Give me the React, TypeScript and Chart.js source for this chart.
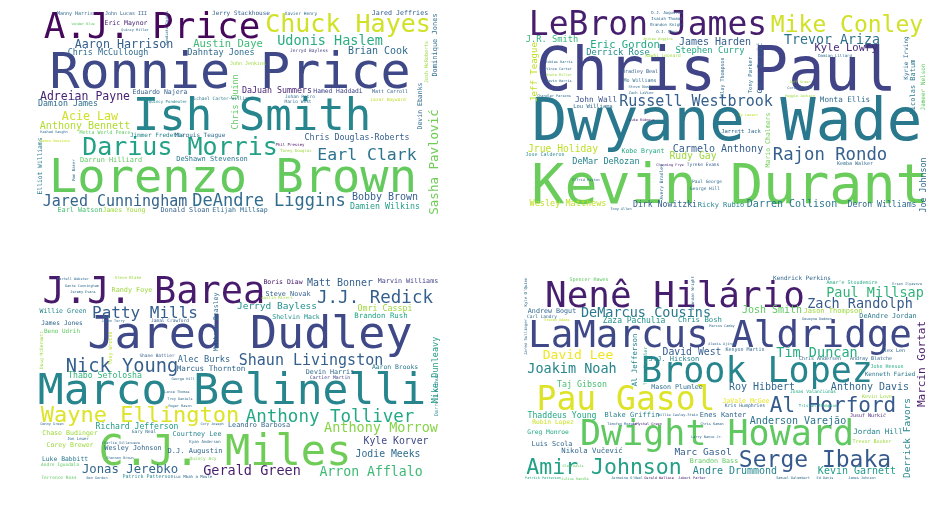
import { useEffect, useRef } from "react";
import { Chart, registerables } from "chart.js";

Chart.register(...registerables);

// word, weight (rendered as font px)
type Word = [string, number];
// x, y (baseline centre, page px), turn (1 = reads bottom to top)
type Spot = [number, number, number];

const topLeftWords: Word[] = [
	["A.J. Price", 36], ["Ronnie Price", 50], ["Ish Smith", 44], ["Lorenzo Brown", 47], ["Darius Morris", 25],
	["Chuck Hayes", 25], ["Udonis Haslem", 13.5], ["Brian Cook", 10], ["Jared Jeffries", 6.7], ["Dominique Jones", 7],
	["Sasha Pavlović", 12.5], ["Earl Clark", 16.5], ["Chris Douglas-Roberts", 8.3], ["DeAndre Liggins", 17], ["Jared Cunningham", 15],
	["Bobby Brown", 10], ["Damien Wilkins", 8.3], ["Donald Sloan", 6.8], ["Elijah Millsap", 6.6], ["Earl Watson", 6.8],
	["James Young", 6.5], ["Aaron Harrison", 11.7], ["Austin Daye", 10.5], ["Chris McCullough", 8.4], ["Dahntay Jones", 8.6],
	["Adreian Payne", 11.5], ["Damion James", 8.3], ["Acie Law", 11.7], ["Anthony Bennett", 10], ["Darrun Hilliard", 6.9],
	["DeShawn Stevenson", 7], ["Eduardo Najera", 6.5], ["DaJuan Summers", 8.3], ["Hamed Haddadi", 6.3], ["Matt Carroll", 5],
	["Chris Quinn", 8.3], ["Elliot Williams", 6.3], ["Devin Ebanks", 6.5], ["Manny Harris", 5], ["John Lucas III", 5],
	["Eric Maynor", 6.5], ["Jerry Stackhouse", 6], ["Xavier Henry", 4.5], ["Quincy Miller", 3.5], ["Metta World Peace", 5],
	["Jimmer Fredette", 6], ["Marquis Teague", 6], ["Lazar Hayward", 4.5], ["Phil Pressey", 4], ["Toney Douglas", 4],
	["Quincy Pondexter", 4], ["Michael Carter-Williams", 4.5], ["Rashad Vaughn", 3.5], ["Ramon Sessions", 3.5], ["Ron Baker", 4],
	["Vander Blue", 3.5], ["John Jenkins", 5], ["Jerryd Bayless", 4.5], ["Johan Petro", 4.5], ["Mario West", 4.5],
	["Josh McRoberts", 5], ["Sundiata Gaines", 3.8],
];
const topLeftSpots: Spot[] = [
	[152, 38, 0], [230, 88, 0], [252, 130, 0], [233, 192, 0], [180, 155, 0],
	[348, 32, 0], [330, 45, 0], [378, 54, 0], [400, 15, 0], [437, 45, 1],
	[438, 162, 1], [367, 160, 0], [357, 140, 0], [269, 206, 0], [115, 206, 0],
	[385, 200, 0], [385, 209, 0], [185, 212, 0], [240, 212, 0], [80, 212, 0],
	[124, 212, 0], [124, 48, 0], [228, 47, 0], [108, 55, 0], [221, 55, 0],
	[85, 100, 0], [68, 106, 0], [90, 120, 0], [85, 129, 0], [111, 162, 0],
	[212, 161, 0], [160, 94, 0], [277, 93, 0], [338, 93, 0], [390, 93, 0],
	[238, 102, 1], [42, 166, 1], [422, 106, 1], [75, 15, 0], [126, 15, 0],
	[126, 25, 0], [241, 15, 0], [301, 15, 0], [135, 31, 0], [105, 134, 0],
	[157, 137, 0], [200, 137, 0], [388, 101, 0], [290, 146, 0], [296, 152, 0],
	[168, 103, 0], [222, 100, 0], [54, 133, 0], [55, 142, 0], [75, 170, 1],
	[83, 25, 0], [248, 65, 0], [309, 52, 0], [300, 98, 0], [298, 103, 0],
	[428, 62, 1], [168, 28, 1],
];
const topLeftShades = [
	0.02, 0.22, 0.45, 0.76, 0.57, 0.93, 0.62, 0.35, 0.3, 0.35,
	0.78, 0.38, 0.3, 0.35, 0.32, 0.3, 0.55, 0.3, 0.35, 0.7,
	0.85, 0.3, 0.68, 0.35, 0.35, 0.1, 0.35, 0.93, 0.88, 0.75,
	0.4, 0.3, 0.1, 0.2, 0.3, 0.75, 0.4, 0.35, 0.35, 0.3,
	0.1, 0.3, 0.35, 0.35, 0.75, 0.45, 0.35, 0.9, 0.05, 0.85,
	0.45, 0.4, 0.35, 0.92, 0.35, 0.75, 0.85, 0.2, 0.35, 0.35,
	0.85, 0.35,
];

const topRightWords: Word[] = [
	["LeBron James", 33], ["Chris Paul", 60], ["Dwyane Wade", 59], ["Kevin Durant", 55], ["Mike Conley", 23],
	["Trevor Ariza", 13.3], ["Kyle Lowry", 10.5], ["Eric Gordon", 10.5], ["James Harden", 10], ["Stephen Curry", 8.8],
	["Derrick Rose", 8.8], ["J.R. Smith", 8.7], ["Jeff Teague", 9], ["Russell Westbrook", 15], ["John Wall", 7.8],
	["Lou Williams", 5.5], ["Monta Ellis", 7.6], ["Nicolas Batum", 7], ["Jameer Nelson", 6], ["Kyrie Irving", 6],
	["Rajon Rondo", 17.3], ["Carmelo Anthony", 10], ["Rudy Gay", 9.8], ["Jrue Holiday", 9.7], ["Kobe Bryant", 6.5],
	["DeMar DeRozan", 8.6], ["Jose Calderon", 5], ["Wesley Matthews", 8.5], ["Dirk Nowitzki", 8.2], ["Ricky Rubio", 7],
	["Darren Collison", 10], ["Deron Williams", 8.2], ["Joe Johnson", 8.3], ["Kemba Walker", 5], ["Mario Chalmers", 6.5],
	["Goran Dragić", 7], ["Tony Parker", 5.5], ["Jarrett Jack", 5.5], ["D.J. Augustin", 4], ["Isaiah Thomas", 4],
	["Brandon Knight", 4], ["O.J. Mayo", 4], ["Andrew Wiggins", 3.5], ["Kawhi Leonard", 4.5], ["Bradley Beal", 5],
	["Mo Williams", 5], ["Steve Nash", 3.8], ["Zach LaVine", 3.8], ["Tobias Harris", 3.5], ["Vince Carter", 3.5],
	["Andre Miller", 3.5], ["Devin Harris", 3.5], ["Chandler Parsons", 3.5], ["Luke Ridnour", 3.5], ["Damian Lillard", 4],
	["Tyreke Evans", 4.5], ["Channing Frye", 3.5], ["Paul George", 4.5], ["George Hill", 4.5], ["Elfrid Payton", 3.5],
	["Tony Allen", 3.5], ["Avery Bradley", 4.5], ["Klay Thompson", 5], ["Ty Lawson", 3.5], ["Jeff Green", 3.5],
	["Corey Brewer", 3.5], ["Reggie Jackson", 3.5],
];
const topRightSpots: Spot[] = [
	[648, 35, 0], [716, 90, 0], [727, 140, 0], [730, 203, 0], [847, 32, 0],
	[832, 44, 0], [846, 51, 0], [625, 48, 0], [715, 45, 0], [710, 53, 0],
	[618, 55, 0], [552, 42, 0], [537, 72, 1], [696, 106, 0], [596, 102, 0],
	[593, 108, 0], [845, 102, 0], [915, 87, 1], [925, 87, 1], [908, 58, 1],
	[830, 160, 0], [718, 152, 0], [693, 159, 0], [563, 152, 0], [643, 153, 0],
	[606, 164, 0], [545, 156, 0], [568, 206, 0], [665, 207, 0], [721, 207, 0],
	[792, 207, 0], [882, 207, 0], [926, 185, 1], [855, 165, 0], [770, 140, 1],
	[762, 68, 1], [752, 75, 1], [741, 133, 0], [667, 14, 0], [667, 20, 0],
	[667, 26, 0], [667, 33, 0], [658, 40, 0], [663, 57, 0], [640, 73, 0],
	[640, 82, 0], [640, 88, 0], [641, 94, 0], [559, 63, 0], [559, 70, 0],
	[559, 76, 0], [559, 82, 0], [554, 97, 0], [642, 121, 0], [835, 57, 0],
	[703, 166, 0], [670, 166, 0], [707, 183, 0], [705, 190, 0], [586, 181, 0],
	[621, 210, 0], [663, 182, 1], [724, 77, 1], [748, 116, 0], [800, 83, 0],
	[800, 89, 0], [800, 97, 0],
];
const topRightShades = [
	0.08, 0.2, 0.4, 0.77, 0.93, 0.38, 0.12, 0.6, 0.3, 0.6,
	0.48, 0.65, 0.9, 0.3, 0.25, 0.35, 0.35, 0.4, 0.75, 0.35,
	0.3, 0.3, 0.85, 0.9, 0.6, 0.45, 0.45, 0.9, 0.3, 0.45,
	0.4, 0.35, 0.35, 0.35, 0.78, 0.3, 0.35, 0.35, 0.35, 0.35,
	0.35, 0.35, 0.85, 0.85, 0.3, 0.35, 0.35, 0.35, 0.35, 0.35,
	0.85, 0.35, 0.35, 0.05, 0.35, 0.3, 0.1, 0.35, 0.35, 0.35,
	0.35, 0.35, 0.35, 0.9, 0.85, 0.35, 0.85,
];

const bottomLeftWords: Word[] = [
	["J.J. Barea", 37], ["Jared Dudley", 45], ["Marco Belinelli", 43], ["C.J. Miles", 42], ["Wayne Ellington", 22],
	["Anthony Tolliver", 17.5], ["Nick Young", 18.7], ["Patty Mills", 16], ["Shaun Livingston", 15], ["J.J. Redick", 17.5],
	["Anthony Morrow", 13.5], ["Arron Afflalo", 13.2], ["Gerald Green", 13.5], ["Jonas Jerebko", 12.3], ["Jodie Meeks", 9.8],
	["Kyle Korver", 9.8], ["Mike Dunleavy", 8.5], ["Alec Burks", 8.7], ["Marcus Thornton", 7.6], ["Thabo Sefolosha", 8.2],
	["Richard Jefferson", 8.1], ["Chase Budinger", 6.6], ["Courtney Lee", 6.8], ["Corey Brewer", 6.5], ["Wesley Johnson", 6.8],
	["D.J. Augustin", 7], ["Luke Babbitt", 6.4], ["Willie Green", 6.5], ["James Jones", 6.3], ["Beno Udrih", 6],
	["Randy Foye", 6.8], ["Matt Bonner", 10], ["Marvin Williams", 6.7], ["Boris Diaw", 6.5], ["Steve Novak", 6.8],
	["Jerryd Bayless", 9.5], ["Omri Casspi", 8.3], ["Shelvin Mack", 6.6], ["Brandon Rush", 7.4], ["Aaron Brooks", 6.4],
	["Devin Harris", 6.7], ["Cartier Martin", 4.8], ["Leandro Barbosa", 6.9], ["Darrell Arthur", 5], ["Shane Battier", 4.5],
	["Andre Iguodala", 4.5], ["Terrence Ross", 4.5], ["Ben Gordon", 3.5], ["Patrick Patterson", 5], ["Luc Mbah a Moute", 4],
	["Quincy Acy", 4.5], ["Kyan Anderson", 4], ["Gary Neal", 4.5], ["Jon Leuer", 4], ["Shannon Brown", 3.5],
	["Charlie Villanueva", 3.5], ["Danny Green", 3.5], ["Cory Joseph", 3.5], ["Lance Thomas", 3.5], ["Troy Daniels", 3.5],
	["Roger Mason", 3.5], ["George Hill", 3.5], ["Jamal Crawford", 4.5], ["Jason Terry", 3.5], ["Michael Beasley", 6.5],
	["Tony Wroten", 5], ["Doug McDermott", 4.5], ["Steve Blake", 4], ["Austin Rivers", 4], ["Dante Cunningham", 3.5],
	["Jeremy Evans", 3.5], ["Martell Webster", 3.5],
];
const bottomLeftSpots: Spot[] = [
	[154, 303, 0], [250, 348, 0], [232, 404, 0], [225, 465, 0], [140, 422, 0],
	[330, 422, 0], [122, 372, 0], [145, 318, 0], [311, 365, 0], [375, 303, 0],
	[381, 432, 0], [371, 476, 0], [252, 475, 0], [130, 473, 0], [388, 457, 0],
	[396, 444, 0], [438, 370, 1], [204, 362, 0], [211, 371, 0], [105, 378, 0],
	[137, 429, 0], [70, 435, 0], [197, 436, 0], [70, 447, 0], [133, 450, 0],
	[195, 453, 0], [65, 461, 0], [63, 313, 0], [62, 325, 0], [62, 333, 0],
	[132, 292, 0], [340, 286, 0], [408, 283, 0], [283, 284, 0], [288, 296, 0],
	[277, 309, 0], [385, 311, 0], [296, 319, 0], [381, 318, 0], [395, 369, 0],
	[330, 374, 0], [330, 379, 0], [259, 427, 0], [438, 395, 1], [157, 357, 0],
	[60, 466, 0], [59, 479, 0], [97, 479, 0], [148, 478, 0], [193, 478, 0],
	[203, 460, 0], [205, 443, 0], [144, 433, 0], [78, 440, 0], [120, 459, 0],
	[121, 444, 0], [52, 425, 0], [212, 425, 0], [177, 393, 0], [180, 400, 0],
	[180, 407, 0], [183, 380, 0], [170, 322, 0], [113, 322, 0], [218, 322, 1],
	[112, 348, 1], [43, 350, 1], [128, 279, 0], [277, 299, 0], [82, 287, 0],
	[83, 293, 0], [73, 280, 0],
];
const bottomLeftShades = [
	0.07, 0.22, 0.45, 0.78, 0.95, 0.6, 0.3, 0.3, 0.3, 0.3,
	0.82, 0.68, 0.08, 0.33, 0.35, 0.22, 0.55, 0.33, 0.33, 0.65,
	0.55, 0.85, 0.45, 0.85, 0.33, 0.33, 0.4, 0.45, 0.33, 0.75,
	0.85, 0.3, 0.2, 0.05, 0.3, 0.5, 0.85, 0.5, 0.6, 0.4,
	0.33, 0.2, 0.33, 0.45, 0.3, 0.75, 0.75, 0.35, 0.45, 0.35,
	0.8, 0.35, 0.35, 0.35, 0.35, 0.35, 0.35, 0.35, 0.35, 0.35,
	0.35, 0.35, 0.3, 0.35, 0.35, 0.9, 0.85, 0.85, 0.85, 0.35,
	0.35, 0.35,
];

const bottomRightWords: Word[] = [
	["Nenê Hilário", 36], ["LaMarcus Aldridge", 37.5], ["Brook Lopez", 35], ["Pau Gasol", 33], ["Dwight Howard", 35],
	["Amir Johnson", 21.5], ["Serge Ibaka", 23], ["Al Horford", 21], ["DeMarcus Cousins", 13.5], ["Paul Millsap", 13.5],
	["Zach Randolph", 13.5], ["Josh Smith", 10], ["Tim Duncan", 13.5], ["Marcin Gortat", 11], ["Derrick Favors", 9.5],
	["Anthony Davis", 10], ["Roy Hibbert", 10], ["Kenneth Faried", 6], ["Anderson Varejão", 10], ["Kevin Garnett", 10],
	["Andre Drummond", 10], ["Marc Gasol", 9.5], ["Jordan Hill", 7.5], ["David Lee", 13], ["David West", 9.8],
	["Joakim Noah", 13.5], ["Al Jefferson", 7.3], ["Taj Gibson", 8.3], ["Mason Plumlee", 6.6], ["J.J. Hickson", 7],
	["Zaza Pachulia", 8], ["Chris Bosh", 7.3], ["Andrew Bogut", 6.7], ["Thaddeus Young", 8.2], ["Blake Griffin", 7],
	["Enes Kanter", 7], ["Robin Lopez", 6.3], ["Greg Monroe", 6.3], ["Luis Scola", 6.8], ["Nikola Vučević", 7.3],
	["Brandon Bass", 6.7], ["JaVale McGee", 6.5], ["DeAndre Jordan", 6.8], ["Jason Thompson", 7], ["Kenyon Martin", 5],
	["Chris Andersen", 5], ["Andray Blatche", 5], ["Alex Len", 5], ["John Henson", 5], ["Kevin Love", 5],
	["Jusuf Nurkić", 5], ["Trevor Booker", 5], ["Kris Humphries", 4.8], ["Kendrick Perkins", 6], ["Amar'e Stoudemire", 5],
	["Spencer Hawes", 5], ["Carl Landry", 4.5], ["Jonas Valančiūnas", 4.5], ["Tristan Thompson", 4], ["Steven Adams", 3.5],
	["Patrick Patterson", 3.5], ["Julius Randle", 3.5], ["Jermaine O'Neal", 3.5], ["Gerald Wallace", 3.5], ["Jabari Parker", 3.5],
	["Samuel Dalembert", 3.5], ["Ed Davis", 3.5], ["James Johnson", 3.5], ["Jared Sullinger", 4], ["Kyle O'Quinn", 4],
	["Brandan Wright", 4], ["Tyson Chandler", 4.5], ["Ersan Ilyasova", 3.5], ["Willie Cauley-Stein", 3.5], ["Chris Kaman", 3.5],
	["Timofey Mozgov", 3.5], ["JaMychal Green", 3.5], ["Larry Nance Jr.", 3.5], ["Glen Davis", 3.5], ["Dewayne Dedmon", 3.5],
	["Alexis Ajinça", 3.5], ["Marcus Camby", 3.5],
];
const bottomRightSpots: Spot[] = [
	[675, 307, 0], [720, 347, 0], [757, 382, 0], [626, 410, 0], [717, 445, 0],
	[604, 474, 0], [815, 467, 0], [833, 412, 0], [646, 317, 0], [875, 297, 0],
	[860, 308, 0], [772, 313, 0], [817, 357, 0], [925, 364, 1], [910, 438, 1],
	[870, 390, 0], [762, 390, 0], [890, 376, 0], [798, 424, 0], [857, 474, 0],
	[735, 474, 0], [703, 455, 0], [878, 434, 0], [578, 359, 0], [692, 355, 0],
	[572, 373, 0], [637, 360, 1], [582, 387, 0], [677, 389, 0], [674, 361, 0],
	[634, 323, 0], [700, 322, 0], [552, 313, 0], [562, 418, 0], [632, 417, 0],
	[723, 417, 0], [553, 424, 0], [548, 434, 0], [552, 446, 0], [592, 453, 0],
	[714, 463, 0], [746, 403, 0], [888, 318, 0], [833, 313, 0], [745, 351, 0],
	[820, 360, 0], [871, 360, 0], [893, 352, 0], [887, 368, 0], [877, 398, 0],
	[868, 417, 0], [872, 443, 0], [745, 407, 0], [802, 280, 0], [852, 284, 0],
	[589, 281, 0], [542, 318, 0], [813, 393, 0], [818, 407, 0], [557, 321, 0],
	[543, 479, 0], [575, 480, 0], [627, 479, 0], [659, 479, 0], [692, 479, 0],
	[793, 479, 0], [825, 479, 0], [862, 479, 0], [527, 337, 1], [527, 292, 1],
	[694, 293, 1], [647, 366, 1], [907, 285, 0], [678, 416, 0], [712, 425, 0],
	[622, 425, 0], [647, 425, 0], [707, 438, 0], [573, 467, 0], [817, 320, 0],
	[722, 345, 0], [722, 327, 0],
];
const bottomRightShades = [
	0.08, 0.22, 0.45, 0.95, 0.75, 0.57, 0.28, 0.28, 0.4, 0.65,
	0.28, 0.75, 0.62, 0.07, 0.45, 0.33, 0.33, 0.4, 0.38, 0.55,
	0.45, 0.3, 0.45, 0.98, 0.3, 0.45, 0.45, 0.7, 0.35, 0.45,
	0.5, 0.5, 0.33, 0.6, 0.45, 0.33, 0.92, 0.6, 0.33, 0.33,
	0.75, 0.97, 0.4, 0.85, 0.33, 0.33, 0.33, 0.33, 0.6, 0.85,
	0.1, 0.85, 0.33, 0.33, 0.6, 0.75, 0.33, 0.6, 0.6, 0.9,
	0.6, 0.75, 0.35, 0.05, 0.1, 0.35, 0.35, 0.35, 0.35, 0.35,
	0.35, 0.6, 0.35, 0.33, 0.33, 0.33, 0.1, 0.33, 0.75, 0.33,
	0.33, 0.33,
];

// panel boxes on the page: left, top, right, bottom
const topLeftBox = [30, 4, 446, 216];
const topRightBox = [515, 4, 934, 216];
const bottomLeftBox = [30, 272, 446, 488];
const bottomRightBox = [515, 272, 934, 488];

const viridisStops = [
	"#440154", "#482475", "#414487", "#355f8d", "#2a788e", "#21918c",
	"#22a884", "#44bf70", "#7ad151", "#bddf26", "#fde725",
];

function viridis(t: number) {
	const n = viridisStops.length - 1;
	const s = Math.min(Math.max(t, 0), 1) * n;
	const i = Math.min(Math.floor(s), n - 1);
	const f = s - i;
	const a = viridisStops[i];
	const b = viridisStops[i + 1];
	const ch = (k: number) => {
		const p = parseInt(a.slice(1 + k * 2, 3 + k * 2), 16);
		const q = parseInt(b.slice(1 + k * 2, 3 + k * 2), 16);
		return Math.round(p + (q - p) * f);
	};
	return `rgb(${ch(0)}, ${ch(1)}, ${ch(2)})`;
}

const cloudText = {
	id: "cloudText",
	afterDatasetsDraw(chart: any) {
		const ctx = chart.ctx;
		chart.data.datasets.forEach((ds: any, i: number) => {
			const meta = chart.getDatasetMeta(i);
			meta.data.forEach((pt: any, j: number) => {
				const [word, weight] = ds.words[j];
				const raw = ds.data[j];
				ctx.save();
				ctx.translate(pt.x, pt.y);
				if (raw.turn) ctx.rotate(-Math.PI / 2);
				ctx.font = `${weight}px "DejaVu Sans Mono", monospace`;
				ctx.fillStyle = viridis(ds.shades[j]);
				ctx.textAlign = "center";
				ctx.textBaseline = "alphabetic";
				ctx.fillText(word, 0, 0);
				ctx.restore();
			});
		});
	},
};

const WordCloud = ({ box, words, spots, shades }) => {
	const canvasRef = useRef<HTMLCanvasElement | null>(null);

	useEffect(() => {
		const chart = new Chart(canvasRef.current, {
			type: "scatter",
			data: {
				datasets: [
					{
						data: spots.map(([x, y, turn]) => ({ x, y, turn })),
						words,
						shades,
						pointRadius: 0,
						pointHoverRadius: 0,
					} as any,
				],
			},
			options: {
				animation: false,
				responsive: false,
				events: [],
				layout: { padding: 0 },
				scales: {
					x: { type: "linear", display: false, min: box[0], max: box[2] },
					y: { type: "linear", display: false, min: box[1], max: box[3], reverse: true },
				},
				plugins: {
					legend: { display: false },
					tooltip: { enabled: false },
				},
			},
			plugins: [cloudText],
		});

		return () => {
			chart.destroy();
		};
	}, []);

	return (
		<canvas
			ref={canvasRef}
			width={box[2] - box[0]}
			height={box[3] - box[1]}
			style={{ position: "absolute", left: box[0], top: box[1] }}
		/>
	);
};

export default function App() {
	return (
		<div style={{ position: "absolute", left: 0, top: 0, width: 937, height: 506, background: "#fff" }}>
			<WordCloud box={topLeftBox} words={topLeftWords} spots={topLeftSpots} shades={topLeftShades} />
			<WordCloud box={topRightBox} words={topRightWords} spots={topRightSpots} shades={topRightShades} />
			<WordCloud box={bottomLeftBox} words={bottomLeftWords} spots={bottomLeftSpots} shades={bottomLeftShades} />
			<WordCloud box={bottomRightBox} words={bottomRightWords} spots={bottomRightSpots} shades={bottomRightShades} />
		</div>
	);
}
